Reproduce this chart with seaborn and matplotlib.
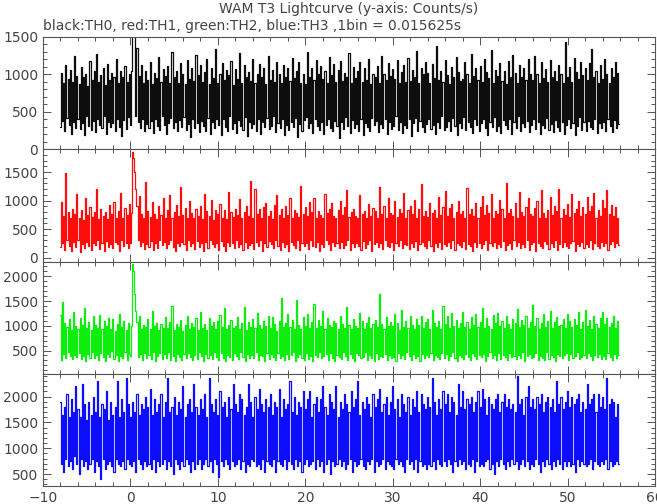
import matplotlib
matplotlib.use("Agg")
import matplotlib.pyplot as plt
import seaborn as sns
import numpy as np
from matplotlib.ticker import MultipleLocator

# time axis: first bin and the (coarse) sampling step of the lists below, seconds
t_start = -8.0
t_step = 0.125

# TH0 counts/s (black), 16 values per 2 s
th0 = [300, 1020, 380, 880, 250, 1130, 420, 940, 330, 1060, 210, 900, 360, 1240, 290, 980,
       410, 870, 270, 1100, 350, 960, 190, 1010, 440, 850, 310, 1180, 260, 920, 380, 1050,
       230, 1270, 400, 900, 320, 990, 280, 1080, 450, 860, 200, 1140, 370, 930, 300, 1020,
       350, 960, 240, 1200, 410, 880, 300, 1050, 180, 970, 390, 1110, 270, 900, 430, 1000,
       320, 1050, 1750, 1700, 1600, 450, 1350, 360, 980, 280, 1120, 400, 890, 250, 1040, 340,
       930, 290, 1160, 380, 870, 220, 1020, 410, 950, 310, 1230, 260, 900, 440, 1070, 330,
       980, 200, 1110, 350, 890, 420, 1300, 280, 960, 370, 1040, 240, 880, 390, 1150, 300,
       1010, 430, 870, 260, 1190, 340, 940, 170, 1080, 400, 910, 290, 1260, 350, 990, 230,
       1120, 380, 900, 310, 1030, 250, 1210, 420, 870, 200, 1090, 360, 950, 280, 1340, 400,
       880, 330, 1000, 190, 1150, 410, 920, 300, 1060, 240, 990, 440, 1180, 270, 860, 350,
       1070, 220, 940, 390, 1280, 310, 890, 260, 1120, 430, 960, 180, 1030, 370, 910, 290,
       1200, 340, 880, 250, 1010, 400, 1140, 210, 970, 360, 1090, 300, 870, 420, 1250, 270,
       930, 310, 1060, 440, 900, 230, 1170, 350, 1000, 280, 880, 400, 1130, 190, 960, 330,
       1090, 260, 910, 370, 1220, 300, 950, 420, 1040, 170, 1160, 340, 890, 250, 1010, 390,
       870, 430, 1300, 280, 960, 350, 1080, 220, 920, 400, 1190, 310, 1000, 260, 1110, 370,
       940, 200, 1050, 330, 880, 410, 1230, 290, 990, 240, 1140, 380, 900, 310, 1060, 150,
       1180, 360, 910, 270, 1020, 430, 960, 310, 1290, 220, 890, 390, 1100, 280, 950, 340,
       1040, 250, 1170, 410, 900, 190, 1080, 350, 930, 300, 1200, 240, 870, 420, 1010, 330,
       960, 380, 1110, 230, 890, 340, 1250, 280, 1000, 410, 920, 200, 1150, 360, 980, 270,
       1070, 310, 940, 440, 1190, 260, 880, 370, 1030, 220, 1130, 330, 900, 290, 1220, 400,
       910, 180, 1060, 350, 970, 420, 1310, 250, 890, 380, 1090, 300, 1000, 230, 1160, 340,
       1020, 410, 880, 270, 1140, 330, 950, 200, 1380, 360, 920, 290, 1050, 440, 900, 260,
       1190, 300, 990, 380, 870, 240, 1100, 420, 960, 310, 1230, 190, 1030, 350, 910, 280,
       940, 430, 1160, 260, 1000, 370, 890, 300, 1270, 220, 980, 400, 1080, 330, 930, 250,
       1110, 350, 900, 410, 1200, 280, 1030, 190, 950, 360, 1320, 300, 880, 430, 1060, 240,
       980, 310, 1150, 220, 910, 390, 1040, 330, 870, 270, 1180, 410, 960, 200, 1260, 360,
       1020, 290, 890, 440, 1130, 250, 970, 350, 1090, 300, 920, 380, 1210, 230, 1000, 320,
       930, 400, 1240, 270, 1010, 360, 880, 210, 1160, 330, 950, 290, 1070, 420, 900, 260,
       1190, 340, 960, 230, 1050, 390, 910, 300, 1120, 250, 1000, 370, 880, 200, 1430, 330,
       970, 410, 1100, 280, 900, 350, 1220, 190, 1030, 310, 940, 430, 1170, 260, 990, 370,
       1080, 240, 920, 380, 1150, 300, 1340, 270, 960, 410, 1040, 220, 890, 350, 1120, 290,
       940, 360, 1200, 250, 1010, 400, 880, 310, 1090, 230, 970, 390, 1160, 280, 1020, 340]

# TH1 counts/s (red)
th1 = [180, 980, 250, 720, 140, 1480, 300, 800, 210, 690, 120, 860, 270, 760, 190, 1120,
       310, 700, 90, 830, 240, 660, 170, 1050, 280, 740, 200, 880, 130, 710, 260, 790,
       220, 1200, 300, 680, 150, 850, 250, 730, 110, 800, 290, 670, 190, 920, 240, 760,
       160, 980, 280, 700, 230, 820, 120, 1130, 310, 690, 200, 870, 250, 740, 170, 940,
       260, 780, 1850, 1750, 1500, 1200, 900, 300, 1080, 210, 760, 280, 690, 150, 1320, 240,
       820, 190, 710, 290, 970, 130, 760, 250, 680, 170, 900, 310, 740, 220, 1040, 270,
       700, 160, 830, 240, 1090, 300, 690, 180, 790, 120, 920, 260, 720, 210, 1230, 280,
       750, 230, 870, 140, 690, 310, 1000, 200, 780, 260, 700, 150, 860, 290, 730, 190,
       900, 250, 680, 120, 1120, 280, 810, 170, 720, 300, 1010, 230, 660, 180, 840, 260,
       760, 140, 940, 290, 700, 210, 830, 110, 680, 270, 1150, 200, 790, 250, 710, 160,
       860, 300, 740, 190, 1020, 240, 690, 130, 800, 280, 900, 170, 730, 220, 1340, 260,
       690, 150, 1210, 270, 770, 200, 850, 310, 700, 120, 880, 250, 960, 180, 720, 290,
       810, 230, 680, 160, 930, 300, 1100, 210, 750, 140, 860, 270, 700, 190, 900, 240,
       740, 120, 1050, 280, 690, 220, 830, 170, 780, 300, 710, 130, 1260, 250, 760, 200,
       880, 260, 720, 150, 970, 310, 800, 210, 1040, 180, 690, 280, 820, 120, 750, 240,
       700, 190, 1110, 300, 780, 230, 850, 140, 960, 270, 720, 200, 690, 250, 830, 160,
       1000, 280, 740, 170, 880, 220, 1180, 300, 710, 130, 790, 260, 860, 190, 720, 250,
       690, 210, 1090, 140, 760, 290, 810, 170, 700, 240, 940, 310, 730, 120, 870, 230,
       820, 270, 700, 190, 1230, 250, 760, 150, 900, 300, 690, 210, 1050, 180, 780, 280,
       740, 130, 990, 260, 710, 200, 860, 300, 780, 170, 1140, 240, 700, 220, 830, 150,
       900, 250, 760, 180, 1010, 290, 690, 140, 860, 230, 1290, 270, 720, 200, 820, 160,
       710, 300, 950, 210, 780, 120, 840, 260, 690, 190, 1060, 280, 740, 150, 880, 240,
       1170, 200, 730, 270, 870, 170, 940, 300, 700, 130, 800, 250, 1000, 220, 760, 180,
       820, 290, 690, 150, 1220, 240, 770, 200, 850, 110, 720, 280, 960, 190, 700, 260,
       880, 170, 1080, 230, 740, 300, 930, 140, 780, 250, 1120, 200, 690, 270, 810, 160,
       760, 240, 1010, 180, 860, 290, 700, 130, 1300, 220, 780, 260, 850, 150, 720, 300,
       950, 200, 690, 270, 1150, 160, 800, 240, 720, 190, 880, 300, 1040, 140, 760, 230,
       730, 280, 870, 120, 990, 250, 700, 210, 1190, 170, 780, 290, 690, 230, 840, 150,
       1070, 260, 750, 190, 900, 300, 820, 140, 1210, 240, 700, 180, 860, 270, 740, 210,
       940, 170, 710, 250, 1120, 290, 780, 120, 850, 230, 1000, 200, 720, 280, 880, 160,
       760, 240, 1060, 190, 820, 300, 910, 150, 1140, 260, 700, 210, 840, 170, 730, 280,
       1010, 200, 870, 260, 1180, 140, 760, 230, 930, 290, 720, 180, 890, 250, 700, 220]

# TH2 counts/s (green)
th2 = [1220, 300, 1480, 420, 1050, 350, 980, 460, 1130, 380, 920, 330, 1270, 410, 1000, 360,
       940, 440, 1150, 320, 1010, 390, 1350, 280, 960, 430, 1080, 350, 910, 470, 1190, 340,
       1020, 400, 960, 310, 1220, 450, 930, 370, 1090, 290, 990, 420, 1160, 360, 940, 480,
       1130, 330, 900, 410, 1040, 280, 1240, 390, 970, 350, 1100, 460, 920, 300, 1060, 430,
       390, 1000, 2250, 2100, 1650, 1300, 1080, 360, 1200, 420, 940, 310, 1010, 450, 980, 350,
       1140, 400, 930, 330, 1300, 470, 990, 290, 1060, 380, 910, 440, 1030, 320, 960, 420,
       1180, 350, 950, 460, 1070, 310, 1400, 390, 920, 280, 1040, 430, 970, 360, 1110, 300,
       900, 420, 1010, 340, 1190, 450, 940, 370, 1060, 300, 980, 410, 1150, 330, 920, 460,
       1280, 380, 960, 290, 1040, 430, 910, 350, 1150, 400, 990, 320, 1080, 470, 940, 360,
       1090, 310, 1220, 440, 970, 350, 1350, 280, 930, 410, 1010, 370, 1120, 300, 960, 450,
       1000, 390, 1180, 320, 940, 460, 1050, 360, 1380, 290, 920, 420, 1070, 340, 980, 400,
       1130, 350, 960, 470, 1260, 300, 1020, 410, 930, 380, 1100, 280, 990, 440, 1200, 330,
       950, 420, 1170, 360, 1040, 310, 900, 450, 1090, 340, 1560, 390, 970, 300, 1060, 430,
       1240, 330, 980, 400, 1110, 460, 940, 290, 1520, 370, 1020, 420, 930, 350, 1180, 310,
       1000, 440, 1230, 320, 960, 390, 1070, 280, 1450, 410, 950, 360, 1120, 470, 990, 340,
       1300, 380, 940, 430, 1150, 310, 1010, 450, 970, 350, 1090, 290, 1060, 400, 930, 370,
       1190, 330, 1040, 460, 960, 380, 1380, 300, 1020, 420, 940, 350, 1130, 280, 1000, 440,
       960, 410, 1250, 340, 1090, 370, 930, 460, 1060, 310, 1180, 400, 950, 350, 1030, 290,
       1120, 450, 980, 320, 1650, 390, 1040, 360, 940, 430, 1170, 300, 1000, 410, 1080, 340,
       990, 370, 1230, 290, 1060, 440, 920, 350, 1310, 400, 970, 320, 1100, 460, 950, 380,
       1200, 310, 1010, 420, 940, 350, 1140, 390, 1020, 280, 1200, 430, 960, 340, 1070, 400,
       1140, 360, 930, 450, 1320, 300, 1050, 410, 980, 370, 1090, 330, 940, 440, 1400, 350,
       1030, 420, 1190, 310, 960, 380, 1260, 460, 1000, 340, 1110, 290, 950, 400, 1060, 360,
       1280, 330, 970, 430, 1080, 370, 930, 300, 1170, 450, 1020, 390, 1240, 320, 980, 410,
       1080, 360, 1360, 420, 950, 290, 1150, 380, 1000, 460, 940, 340, 1210, 400, 1050, 310,
       1250, 440, 990, 330, 1090, 410, 960, 370, 1190, 300, 1030, 450, 930, 360, 1140, 390,
       1060, 320, 1330, 400, 970, 350, 1120, 460, 1010, 290, 1200, 380, 950, 420, 1070, 340,
       1420, 370, 1000, 440, 1160, 310, 940, 390, 1050, 350, 1230, 300, 980, 460, 1100, 330,
       1290, 410, 960, 360, 1070, 290, 1180, 430, 1000, 380, 1020, 340, 1130, 400, 950, 450,
       1240, 300, 1090, 420, 970, 350, 1140, 390, 1010, 460, 1270, 320, 940, 370, 1080, 410,
       1310, 340, 990, 450, 1120, 380, 930, 300, 1200, 410, 1030, 360, 960, 430, 1150, 320,
       1270, 390, 1040, 330, 1150, 440, 980, 370, 1060, 300, 1190, 420, 950, 350, 1090, 400]

# TH3 counts/s (blue)
th3 = [1900, 700, 1650, 550, 1800, 800, 2050, 650, 1600, 750, 1950, 600, 1700, 850, 2200, 700,
       1750, 500, 1600, 800, 2250, 650, 1850, 750, 1550, 600, 1900, 700, 1650, 800, 2000, 550,
       1700, 750, 2300, 650, 1600, 400, 1850, 800, 1750, 600, 2100, 700, 1550, 750, 1900, 650,
       1650, 550, 1800, 800, 2300, 700, 1600, 650, 1950, 750, 1700, 600, 2350, 800, 1850, 700,
       1600, 650, 1900, 750, 1700, 550, 2050, 800, 1650, 700, 1850, 600, 1750, 750, 2000, 650,
       1800, 700, 2150, 600, 1650, 800, 1950, 550, 1700, 750, 1850, 650, 2050, 700, 1600, 800,
       1900, 600, 2350, 750, 1700, 650, 1800, 500, 2000, 800, 1650, 700, 1900, 600, 1750, 750,
       2200, 650, 1600, 800, 1850, 700, 1950, 550, 1700, 750, 2250, 600, 1800, 700, 1650, 800,
       1950, 600, 1750, 700, 2050, 800, 1600, 650, 2350, 750, 1850, 550, 1700, 800, 1950, 700,
       1650, 450, 2100, 750, 1800, 650, 1900, 800, 1600, 700, 2000, 600, 1750, 750, 2250, 650,
       1850, 700, 1700, 800, 2050, 600, 1950, 750, 1650, 550, 1800, 700, 2250, 650, 1900, 800,
       1600, 750, 2000, 650, 1750, 700, 2150, 600, 1850, 800, 1700, 550, 1950, 750, 1800, 700,
       2050, 650, 1650, 800, 1900, 550, 1800, 750, 2150, 700, 1600, 650, 1950, 800, 1750, 600,
       1850, 750, 2300, 700, 1700, 600, 2000, 800, 1650, 650, 1900, 750, 1800, 550, 2100, 700,
       1750, 800, 1950, 650, 2100, 700, 1600, 750, 1850, 600, 2000, 800, 1700, 650, 1950, 750,
       2200, 550, 1800, 700, 1650, 800, 2050, 500, 1900, 750, 1750, 650, 2200, 700, 1600, 800,
       1900, 650, 1750, 750, 2050, 600, 1850, 700, 1700, 800, 2100, 550, 1800, 750, 1950, 650,
       2300, 700, 1650, 800, 1900, 650, 1750, 600, 2000, 750, 1850, 700, 1600, 800, 2050, 550,
       1800, 750, 1950, 650, 2150, 700, 1700, 800, 1850, 600, 2000, 750, 1650, 700, 1900, 650,
       2200, 600, 1750, 800, 1950, 700, 1600, 750, 2050, 650, 1850, 550, 1700, 800, 2000, 700,
       1650, 750, 1950, 600, 1800, 800, 2100, 550, 1700, 750, 2050, 650, 1850, 700, 1750, 600,
       2000, 700, 1800, 650, 2350, 750, 1900, 600, 1650, 800, 1950, 700, 1750, 650, 2100, 750,
       1850, 650, 2050, 800, 1700, 700, 2000, 550, 1900, 750, 1650, 650, 2250, 800, 1800, 700,
       2100, 750, 1750, 600, 1950, 700, 1850, 650, 2000, 800, 1700, 550, 1900, 750, 2100, 650,
       1800, 700, 2150, 650, 1950, 750, 1650, 800, 2000, 600, 1850, 700, 1750, 500, 1950, 750,
       2050, 650, 1700, 800, 1900, 700, 2050, 600, 1800, 750, 1950, 650, 1750, 800, 1850, 700,
       1700, 750, 2400, 600, 1850, 700, 1950, 800, 1650, 650, 2000, 750, 2200, 600, 1800, 700,
       1950, 650, 1750, 800, 2000, 700, 1850, 550, 2050, 750, 1700, 650, 1900, 800, 2000, 700,
       1800, 600, 1950, 750, 1700, 650, 2300, 800, 1850, 700, 2000, 600, 1750, 750, 1900, 650,
       2100, 750, 1800, 650, 2000, 700, 1850, 550, 1950, 800, 2050, 650, 1700, 750, 1900, 700,
       1750, 650, 2250, 700, 1850, 800, 1950, 600, 2050, 750, 1700, 700, 2050, 650, 1800, 750,
       2000, 700, 1750, 800, 2350, 600, 1850, 750, 1950, 650, 1900, 700, 1600, 750, 1850, 700]

series = [th0, th1, th2, th3]
colors = ['black', '#ff0000', '#00ee00', '#0000ff']
ylims = [(0, 1500), (-70, 1900), (30, 2300), (270, 2440)]
yticks = [[0, 500, 1000, 1500], [0, 500, 1000, 1500],
          [500, 1000, 1500, 2000], [500, 1000, 1500, 2000]]

t = t_start + t_step * np.arange(len(th0))

sns.set_style("ticks")
plt.rcParams['font.family'] = ['DejaVu Sans']
plt.rcParams['path.simplify'] = False   # keep every step of the dense curves
txtcol = '#444444'

fig = plt.figure(figsize=(6.57, 5.04), dpi=100)
left, right = 43 / 657, 655 / 657
top_px, bot_px = 37, 486
h = (bot_px - top_px) / 4

for i, vals in enumerate(series):
    y0 = 1 - (top_px + (i + 1) * h) / 504
    ax = fig.add_axes([left, y0, right - left, h / 504])
    sns.lineplot(x=t, y=vals, ax=ax, color=colors[i], lw=0.9, alpha=0.95,
                 estimator=None, drawstyle='steps-mid')
    ax.set_xlim(-10, 60)
    ax.set_ylim(*ylims[i])
    ax.set_yticks(yticks[i])
    ax.yaxis.set_minor_locator(MultipleLocator(100))
    ax.xaxis.set_major_locator(MultipleLocator(10))
    ax.xaxis.set_minor_locator(MultipleLocator(2))
    ax.tick_params(which='both', direction='in', top=True, right=True,
                   colors='#555555', labelcolor=txtcol, labelsize=10, width=0.7)
    ax.tick_params(which='major', length=6)
    ax.tick_params(which='minor', length=3)
    for sp in ax.spines.values():
        sp.set_color('#555555')
        sp.set_linewidth(0.8)
    ax.set_xlabel('')
    ax.set_ylabel('')
    if i < 3:
        ax.tick_params(labelbottom=False)

fig.text(349 / 657, 1 - 9 / 504, 'WAM T3 Lightcurve (y-axis: Counts/s)',
         ha='center', va='center', fontsize=10, color=txtcol)
fig.text(left, 1 - 26 / 504, 'black:TH0, red:TH1, green:TH2, blue:TH3 ,1bin = 0.015625s',
         ha='left', va='center', fontsize=10, color=txtcol)

fig.savefig('out.png', dpi=100)
